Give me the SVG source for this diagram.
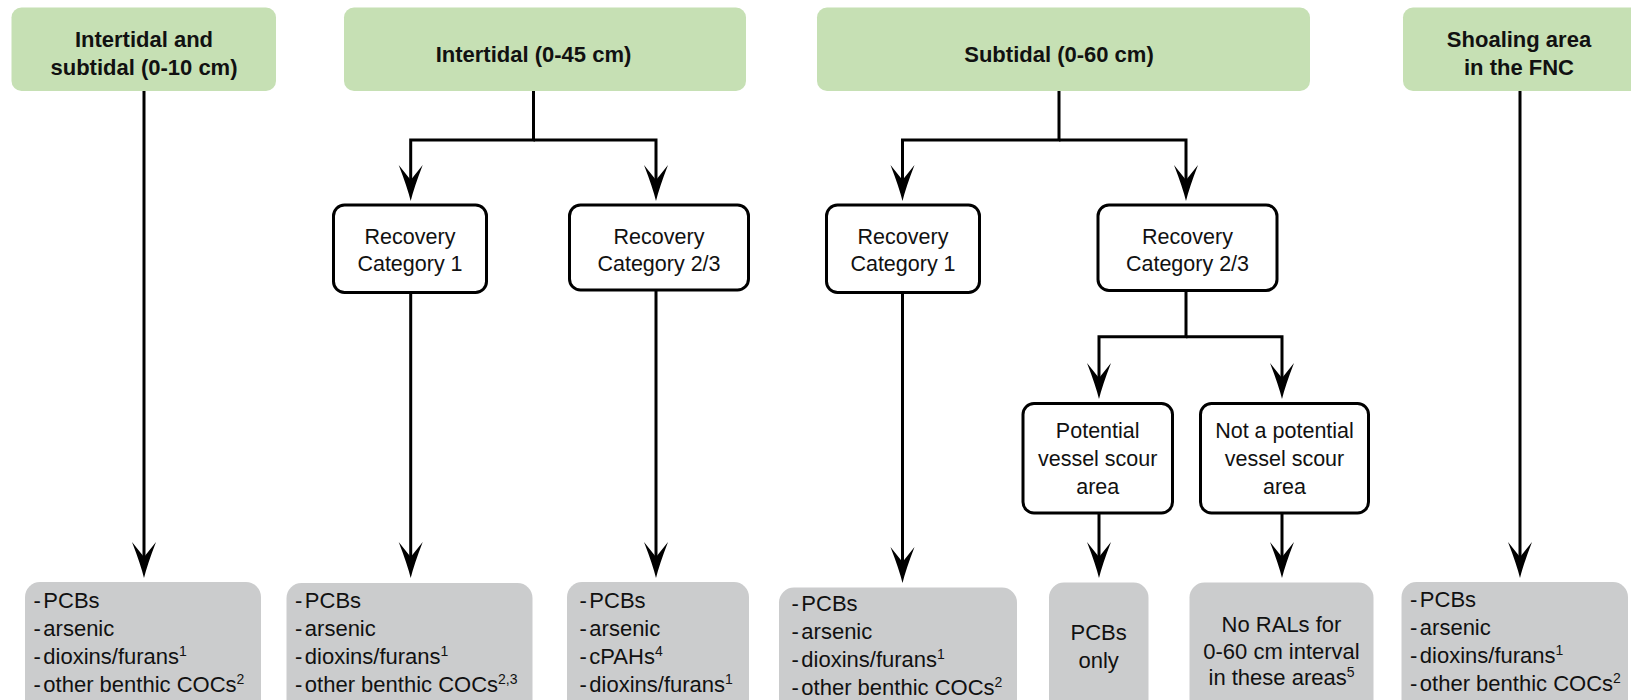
<svg xmlns="http://www.w3.org/2000/svg" width="1631" height="700" viewBox="0 0 1631 700">
<style>
.hdr{fill:#c6e0b4}
.dec{fill:#fff;stroke:#000;stroke-width:3}
.res{fill:#cbcccd}
.conn{fill:none;stroke:#000;stroke-width:3;stroke-linejoin:miter}
text{font-family:"Liberation Sans",Arial,sans-serif;fill:#111}
.ht{font-size:22px;font-weight:bold;text-anchor:middle}
.dt{font-size:21.5px;text-anchor:middle}
.gt{font-size:22px}
.gc{font-size:22px;text-anchor:middle}
.sup{font-size:14px}
</style>
<defs>
<marker id="arr" markerUnits="userSpaceOnUse" orient="auto" refX="0" refY="0" markerWidth="40" markerHeight="30" overflow="visible">
<path d="M21,0 Q7,-3.5 -15,-12 L0,0 L-15,12 Q7,3.5 21,0 Z" fill="#000"/>
</marker>
</defs>
<rect width="1631" height="700" fill="#fff"/>

<g id="connectors">
<path class="conn" marker-end="url(#arr)" d="M144,91 V557"/>
<path class="conn" marker-end="url(#arr)" d="M533.5,91 V140 H410.7 V180"/>
<path class="conn" marker-end="url(#arr)" d="M533.5,140 H656 V180"/>
<path class="conn" marker-end="url(#arr)" d="M410.7,292.7 V557"/>
<path class="conn" marker-end="url(#arr)" d="M656,290 V557"/>
<path class="conn" marker-end="url(#arr)" d="M1059,91 V140 H902.5 V180"/>
<path class="conn" marker-end="url(#arr)" d="M1059,140 H1186 V180"/>
<path class="conn" marker-end="url(#arr)" d="M902.5,292.7 V562"/>
<path class="conn" marker-end="url(#arr)" d="M1186,290.7 V336.7 H1099 V378"/>
<path class="conn" marker-end="url(#arr)" d="M1186,336.7 H1282 V378"/>
<path class="conn" marker-end="url(#arr)" d="M1099,513 V557"/>
<path class="conn" marker-end="url(#arr)" d="M1282,513 V557"/>
<path class="conn" marker-end="url(#arr)" d="M1520,91 V557"/>
</g>

<g id="h1">
<rect class="hdr" x="11.5" y="7.5" width="264.5" height="83.5" rx="10"/>
<text class="ht" x="144" y="46.5">Intertidal and</text>
<text class="ht" x="144" y="74.5">subtidal (0-10 cm)</text>
</g>
<g id="h2">
<rect class="hdr" x="344" y="7.5" width="402" height="83.5" rx="10"/>
<text class="ht" x="533.5" y="62">Intertidal (0-45 cm)</text>
</g>
<g id="h3">
<rect class="hdr" x="817" y="7.5" width="493" height="83.5" rx="10"/>
<text class="ht" x="1059" y="62">Subtidal (0-60 cm)</text>
</g>
<g id="h4">
<rect class="hdr" x="1403" y="7.5" width="245" height="83.5" rx="10"/>
<text class="ht" x="1519" y="46.5">Shoaling area</text>
<text class="ht" x="1519" y="74.5">in the FNC</text>
</g>

<g id="rc1-int">
<rect class="dec" x="333.5" y="205" width="153" height="87.5" rx="11"/>
<text class="dt" x="410" y="244">Recovery</text>
<text class="dt" x="410" y="271">Category 1</text>
</g>
<g id="rc23-int">
<rect class="dec" x="569.5" y="205" width="179" height="85" rx="11"/>
<text class="dt" x="659" y="244">Recovery</text>
<text class="dt" x="659" y="271">Category 2/3</text>
</g>
<g id="rc1-sub">
<rect class="dec" x="826.5" y="205" width="153" height="87.5" rx="11"/>
<text class="dt" x="903" y="244">Recovery</text>
<text class="dt" x="903" y="271">Category 1</text>
</g>
<g id="rc23-sub">
<rect class="dec" x="1098" y="205" width="179" height="85.5" rx="11"/>
<text class="dt" x="1187.5" y="244">Recovery</text>
<text class="dt" x="1187.5" y="271">Category 2/3</text>
</g>
<g id="pot">
<rect class="dec" x="1023" y="403.5" width="149.5" height="109.5" rx="11"/>
<text class="dt" x="1097.7" y="438">Potential</text>
<text class="dt" x="1097.7" y="466">vessel scour</text>
<text class="dt" x="1097.7" y="494">area</text>
</g>
<g id="notpot">
<rect class="dec" x="1200.5" y="403.5" width="168" height="109.5" rx="11"/>
<text class="dt" x="1284.5" y="438">Not a potential</text>
<text class="dt" x="1284.5" y="466">vessel scour</text>
<text class="dt" x="1284.5" y="494">area</text>
</g>

<g id="g1">
<rect class="res" x="25" y="582" width="236" height="135" rx="15"/>
<text class="gt" x="33.5" y="608">-<tspan dx="2.5">PCBs</tspan></text>
<text class="gt" x="33.5" y="636">-<tspan dx="2.5">arsenic</tspan></text>
<text class="gt" x="33.5" y="664">-<tspan dx="2.5">dioxins/furans</tspan><tspan class="sup" dy="-8">1</tspan></text>
<text class="gt" x="33.5" y="692">-<tspan dx="2.5">other benthic COCs</tspan><tspan class="sup" dy="-8">2</tspan></text>
</g>
<g id="g2">
<rect class="res" x="286.5" y="583" width="246" height="135" rx="15"/>
<text class="gt" x="295" y="608">-<tspan dx="2.5">PCBs</tspan></text>
<text class="gt" x="295" y="636">-<tspan dx="2.5">arsenic</tspan></text>
<text class="gt" x="295" y="664">-<tspan dx="2.5">dioxins/furans</tspan><tspan class="sup" dy="-8">1</tspan></text>
<text class="gt" x="295" y="692">-<tspan dx="2.5">other benthic COCs</tspan><tspan class="sup" dy="-8">2,3</tspan></text>
</g>
<g id="g3">
<rect class="res" x="567" y="582" width="182" height="135" rx="15"/>
<text class="gt" x="579.5" y="608">-<tspan dx="2.5">PCBs</tspan></text>
<text class="gt" x="579.5" y="636">-<tspan dx="2.5">arsenic</tspan></text>
<text class="gt" x="579.5" y="664">-<tspan dx="2.5">cPAHs</tspan><tspan class="sup" dy="-8">4</tspan></text>
<text class="gt" x="579.5" y="692">-<tspan dx="2.5">dioxins/furans</tspan><tspan class="sup" dy="-8">1</tspan></text>
</g>
<g id="g4">
<rect class="res" x="779" y="587.5" width="238" height="135" rx="15"/>
<text class="gt" x="791.5" y="611">-<tspan dx="2.5">PCBs</tspan></text>
<text class="gt" x="791.5" y="639">-<tspan dx="2.5">arsenic</tspan></text>
<text class="gt" x="791.5" y="667">-<tspan dx="2.5">dioxins/furans</tspan><tspan class="sup" dy="-8">1</tspan></text>
<text class="gt" x="791.5" y="695">-<tspan dx="2.5">other benthic COCs</tspan><tspan class="sup" dy="-8">2</tspan></text>
</g>
<g id="g5">
<rect class="res" x="1049" y="582.5" width="99.5" height="135" rx="15"/>
<text class="gc" x="1098.7" y="640">PCBs</text>
<text class="gc" x="1098.7" y="668">only</text>
</g>
<g id="g6">
<rect class="res" x="1189.5" y="582.5" width="184" height="135" rx="15"/>
<text class="gc" x="1281.5" y="631.5">No RALs for</text>
<text class="gc" x="1281.5" y="658.5">0-60 cm interval</text>
<text class="gc" x="1281.5" y="685">in these areas<tspan class="sup" dy="-8">5</tspan></text>
</g>
<g id="g7">
<rect class="res" x="1401.5" y="582" width="226.5" height="135" rx="15"/>
<text class="gt" x="1410" y="607">-<tspan dx="2.5">PCBs</tspan></text>
<text class="gt" x="1410" y="635">-<tspan dx="2.5">arsenic</tspan></text>
<text class="gt" x="1410" y="663">-<tspan dx="2.5">dioxins/furans</tspan><tspan class="sup" dy="-8">1</tspan></text>
<text class="gt" x="1410" y="691">-<tspan dx="2.5">other benthic COCs</tspan><tspan class="sup" dy="-8">2</tspan></text>
</g>
</svg>
